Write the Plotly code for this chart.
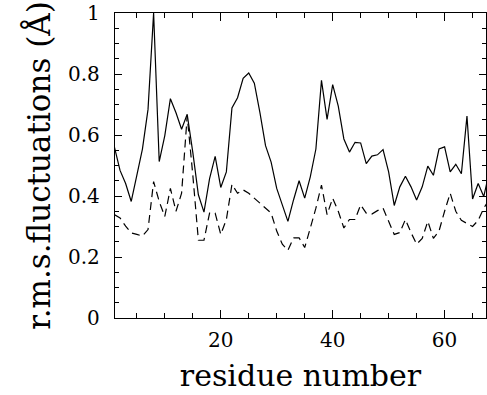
import plotly.graph_objects as go

residues = list(range(1, 69))
rms_solid = [0.56, 0.484, 0.441, 0.382, 0.468, 0.554, 0.684, 1.0, 0.513, 0.598,
             0.719, 0.673, 0.619, 0.668, 0.544, 0.404, 0.347, 0.457, 0.53, 0.428,
             0.479, 0.689, 0.722, 0.786, 0.803, 0.770, 0.673, 0.565, 0.511, 0.425,
             0.371, 0.317, 0.387, 0.45, 0.393, 0.463, 0.554, 0.779, 0.651, 0.765,
             0.695, 0.587, 0.544, 0.576, 0.574, 0.506, 0.531, 0.535, 0.552, 0.479,
             0.369, 0.43, 0.465, 0.43, 0.387, 0.43, 0.498, 0.468, 0.554, 0.561,
             0.479, 0.504, 0.473, 0.662, 0.39, 0.441, 0.398, 0.48]
rms_dashed = [0.339, 0.328, 0.301, 0.279, 0.274, 0.269, 0.29, 0.447, 0.382, 0.333,
              0.425, 0.35, 0.409, 0.662, 0.47, 0.255, 0.255, 0.344, 0.344, 0.274,
              0.323, 0.438, 0.409, 0.42, 0.409, 0.393, 0.376, 0.36, 0.344, 0.285,
              0.242, 0.222, 0.263, 0.263, 0.231, 0.295, 0.36, 0.436, 0.339, 0.393,
              0.35, 0.295, 0.323, 0.323, 0.371, 0.344, 0.341, 0.352, 0.36, 0.317,
              0.274, 0.28, 0.323, 0.28, 0.242, 0.261, 0.317, 0.261, 0.285, 0.35,
              0.409, 0.35, 0.32, 0.31, 0.30, 0.32, 0.36, 0.39]

x_tickvals = [20, 40, 60]
y_tickvals = [0, 0.2, 0.4, 0.6, 0.8, 1]
y_ticktext = ["0", "0.2", "0.4", "0.6", "0.8", "1"]

FONT = "DejaVu Serif"

fig = go.Figure()
fig.add_trace(go.Scatter(x=residues, y=rms_solid, mode="lines",
                         line=dict(color="black", width=1.2), showlegend=False))
fig.add_trace(go.Scatter(x=residues, y=rms_dashed, mode="lines",
                         line=dict(color="black", width=1.2, dash="8px,5px"),
                         showlegend=False))

fig.update_layout(
    width=487, height=395,
    margin=dict(l=115, r=1, t=13, b=77),
    paper_bgcolor="white", plot_bgcolor="white",
    font=dict(family=FONT, color="black"),
    xaxis=dict(
        range=[1.1, 67.4], tickvals=x_tickvals, ticks="inside", ticklen=8,
        tickwidth=1, tickcolor="black", showline=True, linecolor="black",
        linewidth=1.3, mirror="ticks", showgrid=False, zeroline=False,
        automargin=False, ticklabelstandoff=4, ticklabeloverflow="allow",
        tickfont=dict(size=20, family=FONT),
        minor=dict(dtick=5, tick0=0, ticks="inside", ticklen=5,
                   tickcolor="black", showgrid=False),
        title=dict(text="residue number", font=dict(size=30, family=FONT),
                   standoff=13),
    ),
    yaxis=dict(
        range=[0, 1], tickvals=y_tickvals, ticktext=y_ticktext, ticks="inside",
        ticklen=7, tickwidth=1, tickcolor="black", showline=True,
        linecolor="black", linewidth=1.3, mirror="ticks", showgrid=False,
        zeroline=False, automargin=False, ticklabelstandoff=10,
        ticklabeloverflow="allow",
        tickfont=dict(size=20, family=FONT),
        minor=dict(dtick=0.05, tick0=0, ticks="inside", ticklen=4,
                   tickcolor="black", showgrid=False),
        title=dict(text="r.m.s.fluctuations (Å)", font=dict(size=31, family=FONT),
                   standoff=8),
    ),
)

fig.write_html("out.html", config={"displayModeBar": False},
               post_script="document.body.style.margin='0';")
